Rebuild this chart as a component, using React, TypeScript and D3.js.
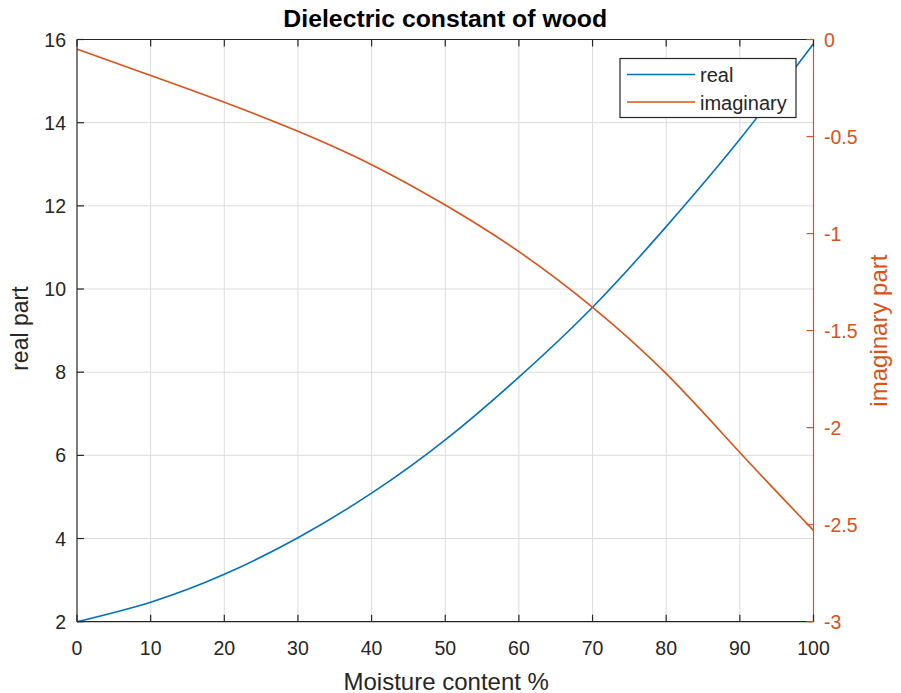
import React, { useEffect, useRef } from "react";
import * as d3 from "d3";

// Moisture content (%) sample points
const moisture = [0, 10, 20, 30, 40, 50, 60, 70, 80, 90, 100];
// Real part of the dielectric constant
const realPart = [2.0, 2.47, 3.14, 4.02, 5.09, 6.37, 7.88, 9.56, 11.5, 13.6, 15.9];
// Imaginary part of the dielectric constant
const imagPart = [-0.05, -0.185, -0.323, -0.473, -0.645, -0.853, -1.093, -1.38, -1.722, -2.128, -2.53];

const xTicks = [0, 10, 20, 30, 40, 50, 60, 70, 80, 90, 100];
const leftTicks = [2, 4, 6, 8, 10, 12, 14, 16];
const rightTicks = [0, -0.5, -1, -1.5, -2, -2.5, -3];

const seriesNames = ["real", "imaginary"];

const W = 901;
const H = 693;
const BLUE = "#0072BD";
const ORANGE = "#D95319";
const INK = "#262626";
const FONT = "'Liberation Sans', Arial, Helvetica, sans-serif";

export default function App() {
  const ref = useRef<SVGSVGElement | null>(null);

  useEffect(() => {
    const svg = d3.select(ref.current);
    svg.selectAll("*").remove();

    const left = 77, right = 813.5, top = 39.5, bottom = 621.7;
    const x = d3.scaleLinear().domain([0, 100]).range([left, right]);
    const yL = d3.scaleLinear().domain([2, 16]).range([bottom, top]);
    const yR = d3.scaleLinear().domain([-3, 0]).range([bottom, top]);

    svg.append("rect").attr("width", W).attr("height", H).attr("fill", "#fff");

    // grid
    const grid = svg.append("g").attr("stroke", "#dcdcdc").attr("stroke-width", 1);
    xTicks.slice(1, -1).forEach((t) => {
      grid.append("line").attr("x1", x(t)).attr("x2", x(t)).attr("y1", top).attr("y2", bottom);
    });
    leftTicks.slice(1, -1).forEach((t) => {
      grid.append("line").attr("x1", left).attr("x2", right).attr("y1", yL(t)).attr("y2", yL(t));
    });

    // data lines
    const lineL = d3.line<number>().x((_, i) => x(moisture[i])).y((d) => yL(d)).curve(d3.curveNatural);
    const lineR = d3.line<number>().x((_, i) => x(moisture[i])).y((d) => yR(d)).curve(d3.curveNatural);
    svg.append("path").attr("d", lineL(realPart)).attr("fill", "none").attr("stroke", BLUE).attr("stroke-width", 1.6);
    svg.append("path").attr("d", lineR(imagPart)).attr("fill", "none").attr("stroke", ORANGE).attr("stroke-width", 1.6);

    // frame
    const frame = svg.append("g").attr("stroke-width", 1.2);
    frame.append("line").attr("x1", left).attr("x2", right).attr("y1", top).attr("y2", top).attr("stroke", INK);
    frame.append("line").attr("x1", left).attr("x2", right).attr("y1", bottom).attr("y2", bottom).attr("stroke", INK);
    frame.append("line").attr("x1", left).attr("x2", left).attr("y1", top).attr("y2", bottom).attr("stroke", INK);
    frame.append("line").attr("x1", right).attr("x2", right).attr("y1", top).attr("y2", bottom).attr("stroke", ORANGE);

    const tl = 7;
    // x ticks (bottom and top, pointing inward)
    xTicks.forEach((t) => {
      frame.append("line").attr("x1", x(t)).attr("x2", x(t)).attr("y1", bottom).attr("y2", bottom - tl).attr("stroke", INK);
      frame.append("line").attr("x1", x(t)).attr("x2", x(t)).attr("y1", top).attr("y2", top + tl).attr("stroke", INK);
      svg.append("text").attr("x", x(t)).attr("y", 655).attr("text-anchor", "middle")
        .attr("font-family", FONT).attr("font-size", 19.5).attr("fill", INK).text(String(t));
    });
    leftTicks.forEach((t) => {
      frame.append("line").attr("x1", left).attr("x2", left + tl).attr("y1", yL(t)).attr("y2", yL(t)).attr("stroke", INK);
      svg.append("text").attr("x", 66).attr("y", yL(t) + 7).attr("text-anchor", "end")
        .attr("font-family", FONT).attr("font-size", 19.5).attr("fill", INK).text(String(t));
    });
    rightTicks.forEach((t) => {
      frame.append("line").attr("x1", right).attr("x2", right - tl).attr("y1", yR(t)).attr("y2", yR(t)).attr("stroke", ORANGE);
      svg.append("text").attr("x", 824).attr("y", yR(t) + 7).attr("text-anchor", "start")
        .attr("font-family", FONT).attr("font-size", 19.5).attr("fill", ORANGE).text(String(t));
    });

    // titles
    svg.append("text").attr("x", (left + right) / 2).attr("y", 26.5).attr("text-anchor", "middle")
      .attr("font-family", FONT).attr("font-size", 24.8).attr("font-weight", "bold").attr("fill", "#000")
      .text("Dielectric constant of wood");
    svg.append("text").attr("x", (left + right) / 2 + 1).attr("y", 689.5).attr("text-anchor", "middle")
      .attr("font-family", FONT).attr("font-size", 24).attr("fill", INK).text("Moisture content %");
    svg.append("text").attr("transform", `translate(28,${(top + bottom) / 2 - 2}) rotate(-90)`).attr("text-anchor", "middle")
      .attr("font-family", FONT).attr("font-size", 23).attr("fill", INK).text("real part");
    svg.append("text").attr("transform", `translate(887,${(top + bottom) / 2}) rotate(-90)`).attr("text-anchor", "middle")
      .attr("font-family", FONT).attr("font-size", 24).attr("fill", ORANGE).text("imaginary part");

    // legend
    const lg = svg.append("g");
    lg.append("rect").attr("x", 620).attr("y", 58.5).attr("width", 176).attr("height", 59)
      .attr("fill", "#fff").attr("stroke", INK).attr("stroke-width", 1.2);
    const colors = [BLUE, ORANGE];
    seriesNames.forEach((n, i) => {
      const yy = 74.5 + i * 27.5;
      lg.append("line").attr("x1", 627).attr("x2", 695).attr("y1", yy).attr("y2", yy)
        .attr("stroke", colors[i]).attr("stroke-width", 1.6);
      lg.append("text").attr("x", 700).attr("y", yy + 7.5).attr("font-family", FONT)
        .attr("font-size", 20).attr("fill", INK).text(n);
    });
  }, []);

  return (
    <svg ref={ref} width={W} height={H}
      style={{ position: "absolute", left: 0, top: 0, display: "block" }} />
  );
}
